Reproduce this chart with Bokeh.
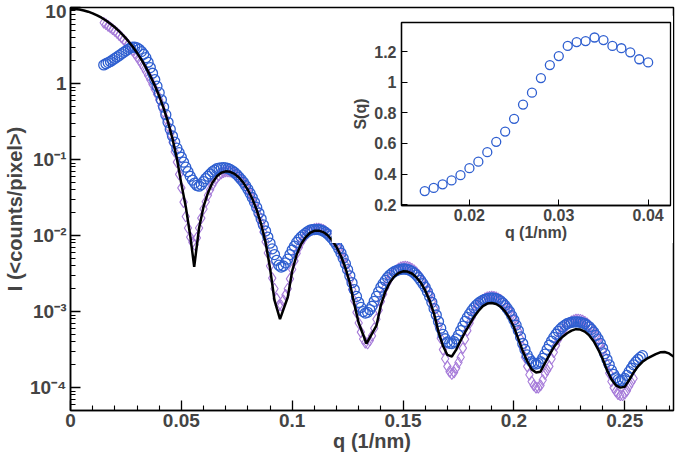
from bokeh.plotting import figure
from bokeh.models import FixedTicker, Range1d
from bokeh.layouts import column
from bokeh.embed import file_html
from bokeh.resources import INLINE

# ---------------- data ----------------
# model curve (black line): q (1/nm) and log10 of intensity
model_q = [0.000, 0.002, 0.004, 0.006, 0.008, 0.010, 0.012, 0.014, 0.016, 0.018,
           0.020, 0.022, 0.024, 0.026, 0.028, 0.030, 0.032, 0.034, 0.036, 0.038,
           0.040, 0.042, 0.044, 0.046, 0.048, 0.050, 0.052, 0.054, 0.0558, 0.058,
           0.060, 0.062, 0.064, 0.066, 0.068, 0.070, 0.072, 0.074, 0.076, 0.078,
           0.080, 0.082, 0.084, 0.086, 0.088, 0.090, 0.092, 0.0945, 0.098, 0.100,
           0.102, 0.104, 0.106, 0.108, 0.110, 0.112, 0.114, 0.116, 0.118, 0.120,
           0.122, 0.124, 0.126, 0.128, 0.130, 0.1335, 0.138, 0.140, 0.142, 0.144,
           0.146, 0.148, 0.150, 0.152, 0.154, 0.156, 0.158, 0.160, 0.162, 0.164,
           0.166, 0.168, 0.170, 0.172, 0.174, 0.176, 0.178, 0.180, 0.182, 0.184,
           0.186, 0.188, 0.190, 0.192, 0.194, 0.196, 0.198, 0.200, 0.202, 0.204,
           0.206, 0.208, 0.210, 0.212, 0.214, 0.216, 0.218, 0.220, 0.222, 0.224,
           0.226, 0.228, 0.230, 0.232, 0.234, 0.236, 0.238, 0.240, 0.242, 0.244,
           0.246, 0.248, 0.250, 0.252, 0.254, 0.256, 0.258, 0.260, 0.262, 0.264,
           0.266, 0.268, 0.270, 0.272]
model_log10_I = [0.982, 0.980, 0.973, 0.961, 0.945, 0.923, 0.897, 0.866, 0.829, 0.787,
                 0.740, 0.686, 0.626, 0.560, 0.486, 0.404, 0.313, 0.212, 0.100, -0.024,
                 -0.165, -0.324, -0.508, -0.725, -0.990, -1.32, -1.62, -2.00, -2.41, -1.90,
                 -1.62, -1.438, -1.304, -1.221, -1.174, -1.155, -1.161, -1.188, -1.237, -1.306,
                 -1.398, -1.515, -1.662, -1.849, -2.092, -2.426, -2.85, -3.10, -2.811, -2.466,
                 -2.254, -2.114, -2.023, -1.966, -1.938, -1.935, -1.954, -1.996, -2.061, -2.151,
                 -2.269, -2.423, -2.624, -2.899, -3.15, -3.42, -3.186, -2.916, -2.739, -2.619,
                 -2.540, -2.492, -2.470, -2.473, -2.499, -2.548, -2.620, -2.721, -2.854, -3.030,
                 -3.267, -3.45, -3.57, -3.59, -3.50, -3.38, -3.27, -3.17, -3.07, -2.992,
                 -2.929, -2.895, -2.886, -2.900, -2.936, -2.997, -3.084, -3.202, -3.359, -3.52,
                 -3.65, -3.76, -3.80, -3.79, -3.68, -3.57, -3.47, -3.39, -3.33, -3.285,
                 -3.251, -3.231, -3.236, -3.263, -3.313, -3.390, -3.496, -3.62, -3.77, -3.89,
                 -3.97, -4.00, -3.99, -3.90, -3.80, -3.72, -3.66, -3.62, -3.59, -3.56,
                 -3.536, -3.531, -3.550, -3.592]

# measured points: q grid shared by both marker series (0.015 ... 0.258)
data_q = [0.015, 0.016, 0.017, 0.018, 0.019, 0.020, 0.021, 0.022, 0.023, 0.024,
          0.025, 0.026, 0.027, 0.028, 0.029, 0.030, 0.031, 0.032, 0.033, 0.034,
          0.035, 0.036, 0.037, 0.038, 0.039, 0.040, 0.041, 0.042, 0.043, 0.044,
          0.045, 0.046, 0.047, 0.048, 0.049, 0.050, 0.051, 0.052, 0.053, 0.054,
          0.055, 0.056, 0.057, 0.058, 0.059, 0.060, 0.061, 0.062, 0.063, 0.064,
          0.065, 0.066, 0.067, 0.068, 0.069, 0.070, 0.071, 0.072, 0.073, 0.074,
          0.075, 0.076, 0.077, 0.078, 0.079, 0.080, 0.081, 0.082, 0.083, 0.084,
          0.085, 0.086, 0.087, 0.088, 0.089, 0.090, 0.091, 0.092, 0.093, 0.094,
          0.095, 0.096, 0.097, 0.098, 0.099, 0.100, 0.101, 0.102, 0.103, 0.104,
          0.105, 0.106, 0.107, 0.108, 0.109, 0.110, 0.111, 0.112, 0.113, 0.114,
          0.115, 0.116, 0.117, 0.118, 0.119, 0.120, 0.121, 0.122, 0.123, 0.124,
          0.125, 0.126, 0.127, 0.128, 0.129, 0.130, 0.131, 0.132, 0.133, 0.134,
          0.135, 0.136, 0.137, 0.138, 0.139, 0.140, 0.141, 0.142, 0.143, 0.144,
          0.145, 0.146, 0.147, 0.148, 0.149, 0.150, 0.151, 0.152, 0.153, 0.154,
          0.155, 0.156, 0.157, 0.158, 0.159, 0.160, 0.161, 0.162, 0.163, 0.164,
          0.165, 0.166, 0.167, 0.168, 0.169, 0.170, 0.171, 0.172, 0.173, 0.174,
          0.175, 0.176, 0.177, 0.178, 0.179, 0.180, 0.181, 0.182, 0.183, 0.184,
          0.185, 0.186, 0.187, 0.188, 0.189, 0.190, 0.191, 0.192, 0.193, 0.194,
          0.195, 0.196, 0.197, 0.198, 0.199, 0.200, 0.201, 0.202, 0.203, 0.204,
          0.205, 0.206, 0.207, 0.208, 0.209, 0.210, 0.211, 0.212, 0.213, 0.214,
          0.215, 0.216, 0.217, 0.218, 0.219, 0.220, 0.221, 0.222, 0.223, 0.224,
          0.225, 0.226, 0.227, 0.228, 0.229, 0.230, 0.231, 0.232, 0.233, 0.234,
          0.235, 0.236, 0.237, 0.238, 0.239, 0.240, 0.241, 0.242, 0.243, 0.244,
          0.245, 0.246, 0.247, 0.248, 0.249, 0.250, 0.251, 0.252, 0.253, 0.254,
          0.255, 0.256, 0.257, 0.258]

# blue circles: measured intensity (log10), one per data_q
circle_log10_I = [0.245, 0.26, 0.275, 0.29, 0.31, 0.33, 0.35, 0.37, 0.39, 0.41,
                  0.43, 0.45, 0.467, 0.48, 0.48, 0.47, 0.45, 0.42, 0.385, 0.34,
                  0.28, 0.21, 0.135, 0.05, -0.035, -0.12, -0.215, -0.31, -0.41, -0.51,
                  -0.60, -0.69, -0.77, -0.85, -0.91, -0.97, -1.035, -1.10, -1.16, -1.22,
                  -1.27, -1.31, -1.34, -1.35, -1.33, -1.29, -1.25, -1.22, -1.19, -1.16,
                  -1.14, -1.12, -1.113, -1.11, -1.107, -1.11, -1.118, -1.13, -1.148, -1.17,
                  -1.198, -1.23, -1.263, -1.30, -1.343, -1.39, -1.443, -1.50, -1.563, -1.63,
                  -1.703, -1.78, -1.86, -1.94, -2.02, -2.10, -2.175, -2.25, -2.325, -2.39,
                  -2.415, -2.40, -2.36, -2.31, -2.25, -2.19, -2.14, -2.09, -2.053, -2.02,
                  -1.993, -1.97, -1.948, -1.93, -1.923, -1.92, -1.918, -1.92, -1.928, -1.94,
                  -1.958, -1.98, -2.008, -2.04, -2.078, -2.12, -2.173, -2.23, -2.298, -2.37,
                  -2.448, -2.53, -2.62, -2.71, -2.80, -2.88, -2.945, -3.00, -3.02, -3.01,
                  -2.975, -2.93, -2.865, -2.80, -2.74, -2.68, -2.633, -2.59, -2.553, -2.52,
                  -2.495, -2.475, -2.46, -2.45, -2.443, -2.44, -2.44, -2.445, -2.455, -2.47,
                  -2.493, -2.52, -2.553, -2.59, -2.633, -2.68, -2.738, -2.80, -2.878, -2.96,
                  -3.045, -3.13, -3.218, -3.30, -3.357, -3.40, -3.418, -3.42, -3.397, -3.36,
                  -3.31, -3.25, -3.19, -3.13, -3.077, -3.03, -2.988, -2.95, -2.918, -2.89,
                  -2.868, -2.85, -2.838, -2.83, -2.823, -2.82, -2.823, -2.83, -2.843, -2.86,
                  -2.888, -2.92, -2.958, -3.00, -3.053, -3.11, -3.178, -3.25, -3.333, -3.42,
                  -3.498, -3.57, -3.623, -3.66, -3.68, -3.69, -3.68, -3.66, -3.615, -3.56,
                  -3.498, -3.44, -3.388, -3.34, -3.298, -3.26, -3.228, -3.20, -3.178, -3.16,
                  -3.148, -3.14, -3.136, -3.135, -3.136, -3.14, -3.148, -3.16, -3.178, -3.20,
                  -3.233, -3.27, -3.313, -3.36, -3.418, -3.48, -3.553, -3.63, -3.70, -3.77,
                  -3.825, -3.87, -3.895, -3.91, -3.905, -3.88, -3.84, -3.79, -3.745, -3.70,
                  -3.663, -3.63, -3.603, -3.58]

# purple diamonds: intensity divided by S(q) (log10), q = data_q[:240] (0.015 ... 0.254)
diamond_log10_I = [0.80, 0.779, 0.759, 0.737, 0.714, 0.690, 0.664, 0.636, 0.607, 0.576,
                   0.544, 0.510, 0.474, 0.436, 0.396, 0.354, 0.310, 0.263, 0.214, 0.162,
                   0.107, 0.050, -0.011, -0.074, -0.142, -0.215, -0.292, -0.374, -0.463, -0.558,
                   -0.662, -0.773, -0.898, -1.034, -1.195, -1.373, -1.56, -1.75, -1.90, -2.02,
                   -2.09, -2.12, -2.03, -1.90, -1.77, -1.65, -1.555, -1.47, -1.397, -1.333,
                   -1.283, -1.239, -1.207, -1.183, -1.166, -1.155, -1.155, -1.160, -1.170, -1.186,
                   -1.207, -1.233, -1.264, -1.301, -1.344, -1.392, -1.447, -1.508, -1.577, -1.653,
                   -1.741, -1.839, -1.953, -2.081, -2.23, -2.40, -2.56, -2.70, -2.83, -2.92,
                   -2.92, -2.85, -2.78, -2.70, -2.57, -2.447, -2.333, -2.234, -2.157, -2.092,
                   -2.042, -1.999, -1.966, -1.940, -1.924, -1.913, -1.908, -1.908, -1.914, -1.925,
                   -1.943, -1.966, -1.995, -2.029, -2.070, -2.117, -2.172, -2.233, -2.305, -2.386,
                   -2.480, -2.585, -2.71, -2.858, -3.01, -3.15, -3.27, -3.36, -3.41, -3.42,
                   -3.38, -3.32, -3.22, -3.10, -2.98, -2.865, -2.77, -2.686, -2.62, -2.564,
                   -2.52, -2.484, -2.456, -2.434, -2.419, -2.410, -2.408, -2.412, -2.421, -2.436,
                   -2.457, -2.484, -2.517, -2.555, -2.602, -2.655, -2.717, -2.786, -2.869, -2.961,
                   -3.075, -3.197, -3.35, -3.50, -3.62, -3.72, -3.79, -3.82, -3.80, -3.74,
                   -3.67, -3.60, -3.48, -3.363, -3.25, -3.152, -3.076, -3.009, -2.957, -2.911,
                   -2.876, -2.846, -2.826, -2.811, -2.804, -2.801, -2.804, -2.813, -2.827, -2.846,
                   -2.873, -2.905, -2.945, -2.990, -3.045, -3.106, -3.180, -3.260, -3.36, -3.470,
                   -3.60, -3.72, -3.83, -3.92, -3.97, -4.00, -4.00, -3.97, -3.90, -3.82,
                   -3.77, -3.72, -3.62, -3.534, -3.445, -3.368, -3.307, -3.253, -3.212, -3.176,
                   -3.149, -3.128, -3.114, -3.105, -3.104, -3.108, -3.118, -3.133, -3.155, -3.182,
                   -3.217, -3.258, -3.308, -3.363, -3.43, -3.504, -3.595, -3.694, -3.81, -3.92,
                   -4.00, -4.05, -4.085, -4.10, -4.10, -4.08, -4.04, -3.98, -3.93, -3.88]

# inset: structure factor S(q)
sq_q = [0.015, 0.016, 0.017, 0.018, 0.019, 0.020, 0.021, 0.022, 0.023, 0.024,
        0.025, 0.026, 0.027, 0.028, 0.029, 0.030, 0.031, 0.032, 0.033, 0.034,
        0.035, 0.036, 0.037, 0.038, 0.039, 0.040]
sq_values = [0.289, 0.310, 0.333, 0.359, 0.393, 0.439, 0.481, 0.543, 0.611, 0.678,
             0.761, 0.854, 0.932, 1.027, 1.112, 1.171, 1.237, 1.262, 1.269, 1.292,
             1.275, 1.237, 1.222, 1.195, 1.150, 1.129]

x_major = [0.0, 0.05, 0.1, 0.15, 0.2, 0.25]
x_major_labels = ["0", "0.05", "0.1", "0.15", "0.2", "0.25"]
x_minor = [0.01, 0.02, 0.03, 0.04, 0.06, 0.07, 0.08, 0.09, 0.11, 0.12, 0.13, 0.14,
           0.16, 0.17, 0.18, 0.19, 0.21, 0.22, 0.23, 0.24, 0.26, 0.27]
y_major = [1e-4, 1e-3, 1e-2, 1e-1, 1.0, 10.0]
y_major_labels = ["10\u207b\u2074", "10\u207b\u00b3", "10\u207b\u00b2", "10\u207b\u00b9", "1", "10"]
y_minor = [m * d for d in [1e-5, 1e-4, 1e-3, 1e-2, 1e-1, 1.0] for m in range(2, 10)]

inset_x_major = [0.02, 0.03, 0.04]
inset_x_labels = ["0.02", "0.03", "0.04"]
inset_y_major = [0.2, 0.4, 0.6, 0.8, 1.0, 1.2]
inset_y_labels = ["0.2", "0.4", "0.6", "0.8", "1", "1.2"]

BLUE = "#2f5fd0"
PURPLE = "#a67bd9"
FONT = "Liberation Sans"

# ---------------- main figure ----------------
p = figure(width=676, height=454, x_range=Range1d(0, 0.272), y_range=Range1d(5e-5, 10),
           y_axis_type="log", output_backend="svg", toolbar_location=None,
           min_border_left=65, min_border_right=1, min_border_top=7, min_border_bottom=42)
p.grid.visible = False
p.outline_line_color = "black"
p.outline_line_width = 1.5
p.background_fill_color = "white"
p.border_fill_color = "white"

for ax in (p.xaxis[0], p.yaxis[0]):
    ax.axis_line_width = 1.5
    ax.major_tick_in = 10
    ax.major_tick_out = 0
    ax.minor_tick_in = 5
    ax.minor_tick_out = 0
    ax.major_tick_line_width = 1.3
    ax.minor_tick_line_width = 1.1
    ax.major_label_text_font = FONT
    ax.major_label_text_font_style = "bold"
    ax.major_label_text_font_size = "19px"
    ax.axis_label_text_font = FONT
    ax.axis_label_text_font_style = "bold"
    ax.axis_label_text_font_size = "20px"

p.xaxis.ticker = FixedTicker(ticks=x_major, minor_ticks=x_minor)
p.xaxis.major_label_overrides = dict(zip(x_major, x_major_labels))
p.xaxis.axis_label = "q (1/nm)"
p.xaxis.major_label_standoff = 3
p.xaxis.axis_label_standoff = 0

p.yaxis.ticker = FixedTicker(ticks=y_major, minor_ticks=y_minor)
p.yaxis.major_label_overrides = dict(zip(y_major, y_major_labels))
p.yaxis.axis_label = "I (<counts/pixel>)"
p.yaxis.major_label_standoff = 4
p.yaxis.axis_label_standoff = 1

diamond_I = [10 ** v for v in diamond_log10_I]
circle_I = [10 ** v for v in circle_log10_I]
model_I = [10 ** v for v in model_log10_I]

p.scatter(data_q[:len(diamond_I)], diamond_I, marker="diamond", size=11,
          fill_color=None, line_color=PURPLE, line_width=1.1)
p.scatter(data_q, circle_I, marker="circle", size=10,
          fill_color=None, line_color=BLUE, line_width=1.3)
p.line(model_q, model_I, line_color="black", line_width=2.5)

# ---------------- inset ----------------
ins = figure(width=342, height=228, x_range=Range1d(0.0124, 0.0425), y_range=Range1d(0.195, 1.39),
             output_backend="svg", toolbar_location=None,
             min_border_left=53, min_border_right=3, min_border_top=7, min_border_bottom=32,
             styles={"position": "absolute", "left": "331px", "top": "15px"})
ins.grid.visible = False
ins.outline_line_color = "black"
ins.outline_line_width = 1.3
ins.background_fill_color = "white"
ins.border_fill_color = "white"
for ax in (ins.xaxis[0], ins.yaxis[0]):
    ax.axis_line_width = 1.3
    ax.major_tick_in = 6
    ax.major_tick_out = 0
    ax.minor_tick_in = 0
    ax.minor_tick_out = 0
    ax.major_label_text_font = FONT
    ax.major_label_text_font_style = "bold"
    ax.major_label_text_font_size = "16px"
    ax.axis_label_text_font = FONT
    ax.axis_label_text_font_style = "bold"
    ax.axis_label_text_font_size = "16px"
ins.xaxis.ticker = FixedTicker(ticks=inset_x_major)
ins.xaxis.major_label_overrides = dict(zip(inset_x_major, inset_x_labels))
ins.xaxis.axis_label = "q (1/nm)"
ins.xaxis.major_label_standoff = 3
ins.xaxis.axis_label_standoff = 0
ins.yaxis.ticker = FixedTicker(ticks=inset_y_major)
ins.yaxis.major_label_overrides = dict(zip(inset_y_major, inset_y_labels))
ins.yaxis.axis_label = "S(q)"
ins.yaxis.major_label_standoff = 5
ins.yaxis.axis_label_standoff = 2

ins.scatter(sq_q, sq_values, marker="circle", size=9, fill_color=None,
            line_color=BLUE, line_width=1.3)

layout = column(p, ins, styles={"position": "relative"})
open("out.html", "w").write(file_html(layout, INLINE))
